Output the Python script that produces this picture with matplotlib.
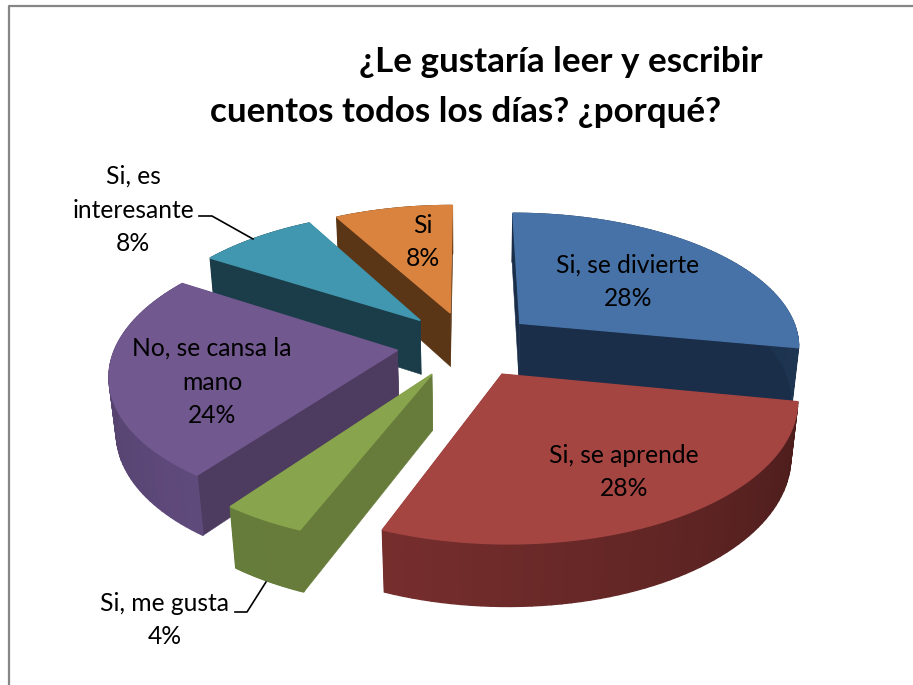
import numpy as np
import matplotlib
matplotlib.use("Agg")
import matplotlib.pyplot as plt
from matplotlib.colors import to_rgb

plt.rcParams['font.family'] = ['Lato', 'DejaVu Sans']

# slices, clockwise from 12 o'clock
categories = ["Si, se divierte", "Si, se aprende", "Si, me gusta",
              "No, se cansa la\nmano", "Si, es\ninteresante", "Si"]
values = [28, 28, 4, 24, 8, 8]

top_colors = ['#4672A7', '#A44542', '#88A44D', '#71588F', '#4197AF', '#D9833F']
cut_colors = ['#1A2E4A', '#5A2220', '#677C3B', '#4D3B60', '#1B3D49', '#5A3616']
rim_start = ['#1A2E4A', '#4A1C1B', '#677C3B', '#5F4A7C', '#1B3D49', '#5A3616']
rim_end = ['#1E3552', '#762E2D', '#667C3A', '#4E3D64', '#1B3D49', '#5A3616']

label_pos = [(628, 282), (624, 472), (165, 620), (212, 382), (133, 210), (423, 242)]

# projection of the pie onto the page (pixels)
CX, CY = 467, 344
RX, RY = 281, 133
PERSP = 0.155
DEPTH = 56
EXPLODE = 0.25


def project(x, y, z=0.0):
    w = 1 + PERSP * y + 0.02 * z
    return CX + RX * x / w, CY - (RY * y - DEPTH * z) / w


def draw_slice(ax, frac0, frac1, i, layer):
    a1, a2 = 2 * np.pi * frac0, 2 * np.pi * frac1
    mid = (a1 + a2) / 2
    ox, oy = EXPLODE * np.sin(mid), EXPLODE * np.cos(mid)
    t = np.linspace(a1, a2, 60)
    xs, ys = ox + np.sin(t), oy + np.cos(t)

    # straight cut faces
    for a in (a1, a2):
        ex, ey = ox + np.sin(a), oy + np.cos(a)
        quad = [project(ox, oy), project(ex, ey), project(ex, ey, 1), project(ox, oy, 1)]
        ax.fill(*zip(*quad), color=cut_colors[i], lw=0.4, zorder=layer)

    # outer curved side, shaded strip by strip
    c0, c1 = np.array(to_rgb(rim_start[i])), np.array(to_rgb(rim_end[i]))
    for k in range(len(xs) - 1):
        col = c0 + (c1 - c0) * k / (len(xs) - 2)
        quad = [project(xs[k], ys[k]), project(xs[k + 1], ys[k + 1]),
                project(xs[k + 1], ys[k + 1], 1), project(xs[k], ys[k], 1)]
        ax.fill(*zip(*quad), color=col, lw=1.0, zorder=layer)

    # top face, thick edge hides the strips peeking out at the back
    px, py = project(np.r_[ox, xs], np.r_[oy, ys])
    ax.fill(px, py, color=top_colors[i], lw=1.0, zorder=layer + 0.5)


fig = plt.figure(figsize=(9.13, 6.85), dpi=100)
ax = fig.add_axes([0, 0, 1, 1])
ax.set_xlim(0, 913)
ax.set_ylim(685, 0)
ax.axis('off')

# chart frame, cut off by the page on the right and at the bottom
ax.plot([8.5, 8.5, 913], [685, 5.5, 5.5], color='#868686', lw=1.6)

edges = np.cumsum([0] + values) / sum(values)
mids = (edges[:-1] + edges[1:]) / 2
# back slices first
order = np.argsort(-np.cos(2 * np.pi * mids))
for layer, i in enumerate(order):
    draw_slice(ax, edges[i], edges[i + 1], i, layer + 1)

for cat, val, (x, y) in zip(categories, values, label_pos):
    ax.text(x, y, f"{cat}\n{val}%", ha='center', va='center', fontsize=17.7,
            linespacing=1.55, color='black', zorder=20)

# leader lines
ax.plot([199, 212, 253], [216, 216, 239], color='black', lw=1.2, zorder=20)
ax.plot([235, 247, 266], [612, 612, 582], color='black', lw=1.2, zorder=20)

ax.text(561, 62, "¿Le gustaría leer y escribir", ha='center', va='center',
        fontsize=25.2, fontweight='bold', zorder=20)
ax.text(466, 112, "cuentos todos los días? ¿porqué?", ha='center', va='center',
        fontsize=25.2, fontweight='bold', zorder=20)

fig.savefig("out.png", dpi=100)
